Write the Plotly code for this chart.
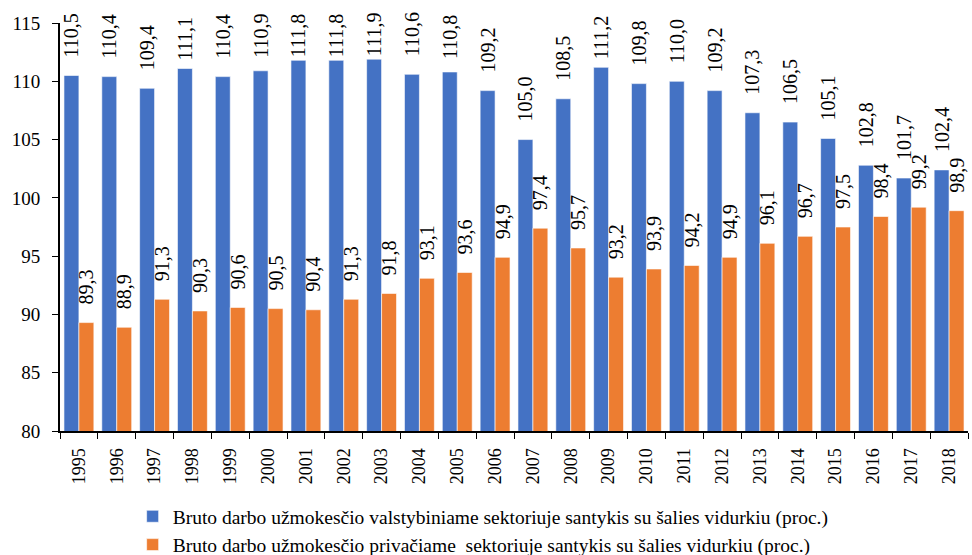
import plotly.graph_objects as go

years = [str(y) for y in range(1995, 2019)]
state = [110.5, 110.4, 109.4, 111.1, 110.4, 110.9, 111.8, 111.8, 111.9, 110.6, 110.8, 109.2,
         105.0, 108.5, 111.2, 109.8, 110.0, 109.2, 107.3, 106.5, 105.1, 102.8, 101.7, 102.4]
private = [89.3, 88.9, 91.3, 90.3, 90.6, 90.5, 90.4, 91.3, 91.8, 93.1, 93.6, 94.9,
           97.4, 95.7, 93.2, 93.9, 94.2, 94.9, 96.1, 96.7, 97.5, 98.4, 99.2, 98.9]

name_state = "Bruto darbo užmokesčio valstybiniame sektoriuje santykis su šalies vidurkiu (proc.)"
name_private = "Bruto darbo užmokesčio privačiame  sektoriuje santykis su šalies vidurkiu (proc.)"

font_family = "Times New Roman"
Y_MIN, Y_MAX = 80, 115
PLOT_TOP, PLOT_H = 23, 408
FIG_H = 580  # page viewport shows the top 555 px (legend runs slightly past, as in the reference)


def label_templates(vals):
    # pad labels away from the bar top (like Excel), but keep them inside the top edge
    out = []
    for v in vals:
        bar_top = PLOT_TOP + (Y_MAX - v) / (Y_MAX - Y_MIN) * PLOT_H
        gap = max(3, min(18, bar_top - 58))
        n = int(round((gap - 3) / 5))
        out.append("\u00a0" * n + "%{y:.1f}")
    return out


fig = go.Figure()
for name, vals, color in [(name_state, state, "#4472C4"), (name_private, private, "#ED7D31")]:
    fig.add_trace(go.Bar(
        x=years, y=vals, name=name,
        marker=dict(color=color, line=dict(color="rgba(255,255,255,0.6)", width=1)),
        texttemplate=label_templates(vals), textposition="outside", textangle=-90,
        constraintext="none", cliponaxis=False,
        textfont=dict(family=font_family, size=20, color="black"),
    ))

fig.update_layout(
    width=972, height=FIG_H,
    margin=dict(l=60, r=4, t=PLOT_TOP, b=FIG_H - PLOT_TOP - PLOT_H),
    barmode="group", bargap=0.21, bargroupgap=0,
    separators=", ",
    plot_bgcolor="white", paper_bgcolor="white",
    font=dict(family=font_family, size=18, color="black"),
    showlegend=True,
    legend=dict(orientation="v", x=0.08, y=-0.162, xanchor="left", yanchor="top",
                font=dict(family=font_family, size=19.5, color="black"),
                tracegroupgap=0, itemwidth=30),
)
fig.update_yaxes(range=[Y_MIN, Y_MAX], dtick=5, showgrid=False, showline=True,
                 linecolor="black", linewidth=2, ticks="outside", ticklen=6,
                 tickcolor="black", tickfont=dict(size=19), zeroline=False,
                 automargin=False, ticklabelstandoff=8)
fig.update_xaxes(type="category", tickangle=-90, showline=True, linecolor="black",
                 linewidth=2, ticks="outside", tickson="boundaries", ticklen=6,
                 tickcolor="black", tickfont=dict(size=18), automargin=False,
                 ticklabelstandoff=8)

fig.write_html("out.html", config={"displayModeBar": False},
               post_script="document.body.style.margin='0';document.body.style.overflow='hidden';"
                           "document.documentElement.style.overflow='hidden';")
